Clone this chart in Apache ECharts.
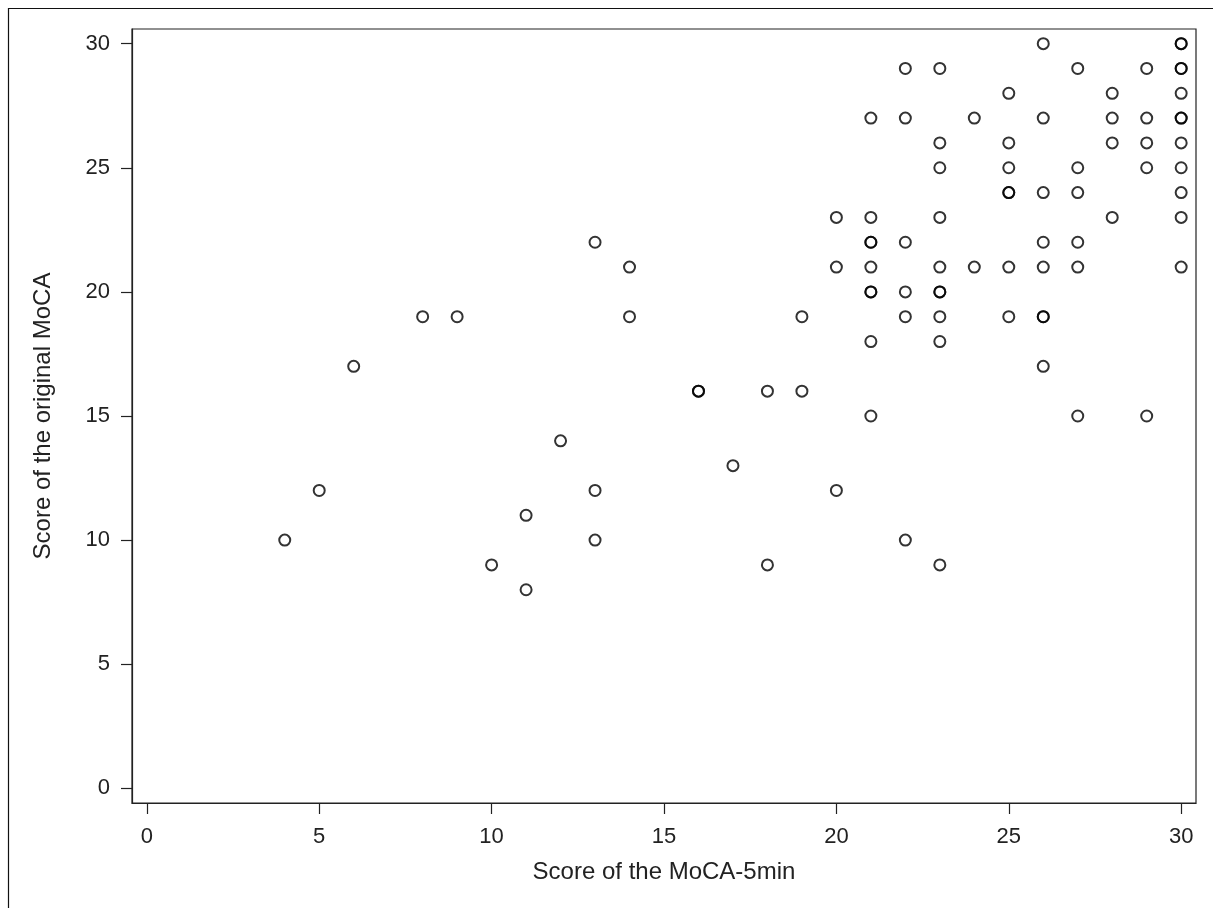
<!DOCTYPE html>
<html>
<head>
<meta charset="utf-8">
<script src="https://cdn.jsdelivr.net/npm/echarts@6/dist/echarts.min.js"></script>
<style>
  html,body{margin:0;padding:0;background:#fff;}
  #chart{width:1213px;height:908px;}
</style>
</head>
<body>
<div id="chart"></div>
<script>
/* MoCA-5min score (x) vs original MoCA score (y), one entry per subject */
const moca5min = [
  4, 5, 6, 8, 9, 10, 11, 11, 12, 13, 13, 13, 14, 14, 16, 16, 17, 18, 18, 19, 19,
  20, 20, 20,
  21, 21, 21, 21, 21, 21, 21, 21, 21,
  22, 22, 22, 22, 22, 22,
  23, 23, 23, 23, 23, 23, 23, 23, 23, 23,
  24, 24,
  25, 25, 25, 25, 25, 25, 25,
  26, 26, 26, 26, 26, 26, 26, 26,
  27, 27, 27, 27, 27, 27,
  28, 28, 28, 28,
  29, 29, 29, 29, 29,
  30, 30, 30, 30, 30, 30, 30, 30, 30, 30, 30, 30
];
const mocaOriginal = [
  10, 12, 17, 19, 19, 9, 11, 8, 14, 22, 12, 10, 21, 19, 16, 16, 13, 16, 9, 19, 16,
  23, 21, 12,
  27, 23, 22, 22, 21, 20, 20, 18, 15,
  29, 27, 22, 20, 19, 10,
  29, 26, 25, 23, 21, 20, 20, 19, 18, 9,
  27, 21,
  28, 26, 25, 24, 24, 21, 19,
  30, 27, 24, 22, 21, 19, 19, 17,
  29, 25, 24, 22, 21, 15,
  28, 27, 26, 23,
  29, 27, 26, 25, 15,
  30, 30, 29, 29, 28, 27, 27, 26, 25, 24, 23, 21
];
const xTicks = [0, 5, 10, 15, 20, 25, 30];
const yTicks = [0, 5, 10, 15, 20, 25, 30];

const xTitle = "Score of the MoCA-5min";
const yTitle = "Score of the original MoCA";

const points = moca5min.map((v, i) => [v, mocaOriginal[i]]);

const font = "'Liberation Sans', Arial, sans-serif";
const tickTxt = {fontFamily: font, fontSize: 22, color: "#222"};
const titleTxt = {fontFamily: font, fontSize: 24, color: "#222"};
const lineCol = "#222";

const myChart = echarts.init(document.getElementById("chart"));

myChart.setOption({
  animation: false,
  backgroundColor: "#fff",
  grid: {
    left: 132, right: 17, top: 29, bottom: 105,
    show: true, borderColor: lineCol, borderWidth: 1.2
  },
  graphic: [{
    type: "rect",
    shape: {x: 8.5, y: 8.5, width: 1400, height: 1100},
    style: {fill: null, stroke: "#111", lineWidth: 1.2},
    silent: true
  }],
  xAxis: {
    type: "value",
    min: -0.43, max: 30.43,
    name: xTitle,
    nameLocation: "middle",
    nameGap: 57,
    nameTextStyle: titleTxt,
    axisLine: {show: true, onZero: false, lineStyle: {color: lineCol, width: 1.2}},
    axisTick: {show: true, inside: false, customValues: xTicks, length: 11, lineStyle: {color: lineCol, width: 1.2}},
    axisLabel: Object.assign({customValues: xTicks, margin: 23}, tickTxt),
    splitLine: {show: false}
  },
  yAxis: {
    type: "value",
    min: -0.59, max: 30.59,
    name: yTitle,
    nameLocation: "middle",
    nameGap: 77,
    nameRotate: 90,
    nameTextStyle: titleTxt,
    axisLine: {show: true, onZero: false, lineStyle: {color: lineCol, width: 1.2}},
    axisTick: {show: true, inside: false, customValues: yTicks, length: 11, lineStyle: {color: lineCol, width: 1.2}},
    axisLabel: Object.assign({customValues: yTicks, margin: 22}, tickTxt),
    splitLine: {show: false}
  },
  series: [{
    type: "scatter",
    data: points,
    symbol: "circle",
    symbolSize: 11,
    itemStyle: {color: "rgba(255,255,255,0)", borderColor: "#000", borderWidth: 2}
  }]
});
</script>
</body>
</html>
